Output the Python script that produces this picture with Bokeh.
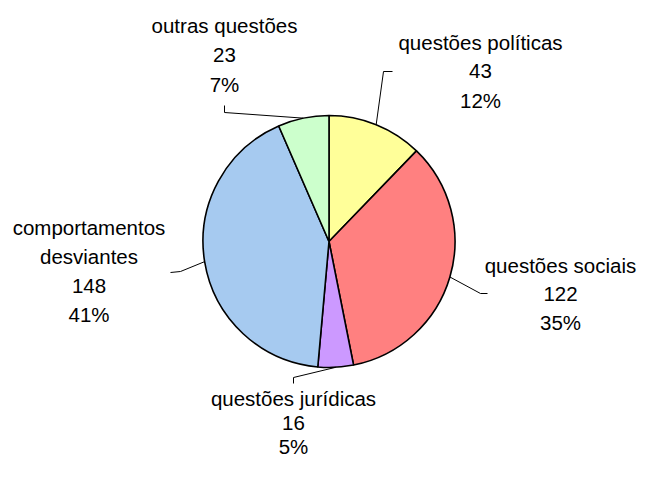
import numpy as np
from bokeh.plotting import figure
from bokeh.models import Range1d, ColumnDataSource
from bokeh.core.properties import value
from bokeh.embed import file_html
from bokeh.resources import INLINE

categories = ["questões políticas", "questões sociais", "questões jurídicas",
              "comportamentos\ndesviantes", "outras questões"]
counts = [43, 122, 16, 148, 23]
percent_labels = ["12%", "35%", "5%", "41%", "7%"]
colors = ["#FFFF99", "#FF8080", "#CC99FF", "#A6CAF0", "#CCFFCC"]

W, H = 637, 462
p = figure(width=W, height=H, output_backend="svg", toolbar_location=None,
           x_range=Range1d(0, W), y_range=Range1d(478 - H, 478),
           min_border=0, outline_line_color=None)
p.axis.visible = False
p.grid.visible = False
p.background_fill_color = "white"
p.border_fill_color = "white"

def Y(py):
    return 478 - py

cx, cy, r = 328.5, Y(241), 126
vals = np.array(counts, dtype=float)
frac = vals / vals.sum()
cum = np.concatenate([[0], np.cumsum(frac)]) * 2 * np.pi  # clockwise from top
start = np.pi / 2 - cum[1:]
end = np.pi / 2 - cum[:-1]

src = ColumnDataSource(dict(start=start, end=end, color=colors))
p.wedge(x=cx, y=cy, radius=r, start_angle="start", end_angle="end",
        fill_color="color", line_color="black", line_width=1.6, source=src)

mid = (cum[:-1] + cum[1:]) / 2
edge_x = cx + r * np.sin(mid)
edge_y = cy + r * np.cos(mid)

leaders = [
    [(392, 71), (383, 71)],
    [(487, 293), (480, 293)],
    [(293, 383), (293, 377)],
    [(170, 272), (180, 271)],
    [(224, 105), (224, 112)],
]
for i, pts in enumerate(leaders):
    xs = [pt[0] for pt in pts] + [edge_x[i]]
    ys = [Y(pt[1]) for pt in pts] + [edge_y[i]]
    p.line(xs, ys, line_color="black", line_width=1)

label_pos = [(480, 41.5, 29), (560, 265, 28.5), (293, 398, 24),
             (88.5, 227, 29), (224, 25, 29.5)]
for i, (lx, ly, sp) in enumerate(label_pos):
    lines = categories[i].split("\n") + [str(counts[i]), percent_labels[i]]
    for j, t in enumerate(lines):
        p.text(x=[lx], y=[Y(ly + j * sp)], text=[t],
               text_align="center", text_baseline="middle",
               text_font=value("Liberation Sans"), text_font_size="20.5px",
               text_color="black")

open("out.html", "w").write(file_html(p, INLINE))
